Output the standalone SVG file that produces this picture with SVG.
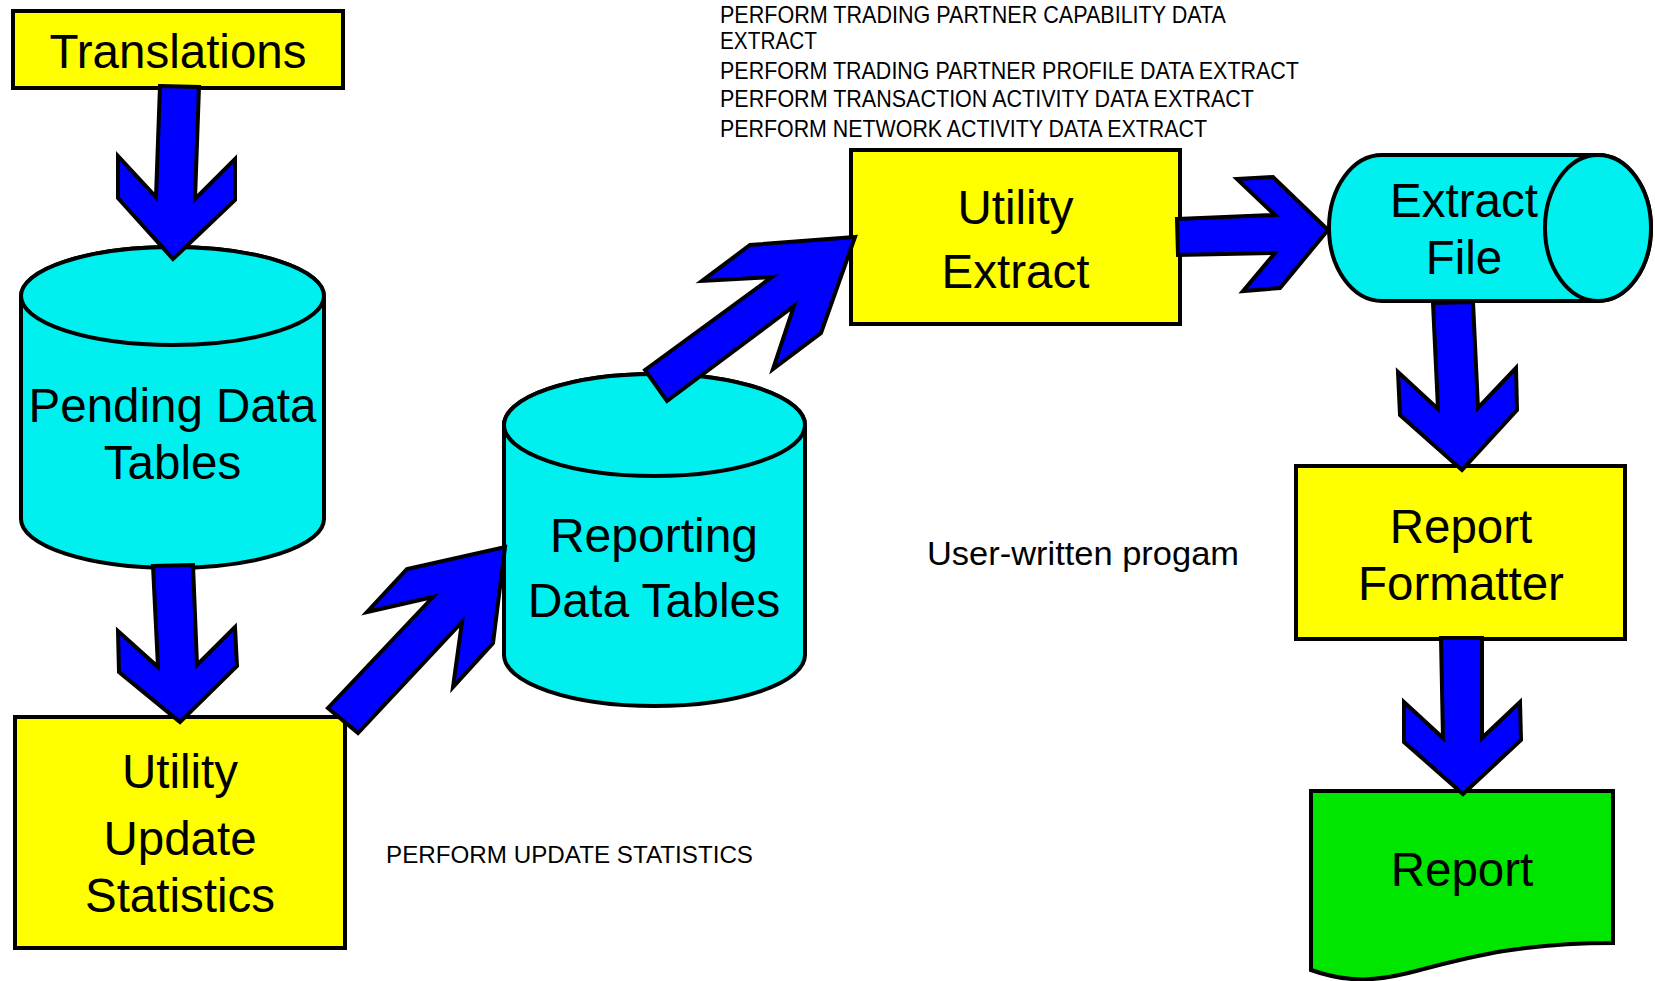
<svg xmlns="http://www.w3.org/2000/svg" width="1655" height="981" viewBox="0 0 1655 981">
<style>
.box{fill:#FFFF00;stroke:#000;stroke-width:4}
.cyl{fill:#00F0F0;stroke:#000;stroke-width:4}
.doc{fill:#00E600;stroke:#000;stroke-width:4}
.arr{fill:#0000FF;stroke:#000;stroke-width:4;stroke-linejoin:miter}
.big{font-family:"Liberation Sans",Arial,sans-serif;font-size:47.5px;fill:#000;text-anchor:middle}
.small{font-family:"Liberation Sans",Arial,sans-serif;font-size:24.5px;fill:#000}
</style>
<rect width="1655" height="981" fill="#FFFFFF"/>
<g id="translations">
<rect class="box" x="13" y="11" width="330" height="77"/>
<text class="big" x="178" y="68">Translations</text>
</g>
<g id="pending-data-tables">
<path class="cyl" d="M21,296 A151.5,49 0 0 1 324,296 V519 A151.5,49 0 0 1 21,519 Z"/>
<ellipse class="cyl" cx="172.5" cy="296" rx="151.5" ry="49"/>
<text class="big" x="172.5" y="422">Pending Data</text>
<text class="big" x="172.5" y="479">Tables</text>
</g>
<g id="utility-update-statistics">
<rect class="box" x="15" y="717" width="330" height="231"/>
<text class="big" x="180" y="788">Utility</text>
<text class="big" x="180" y="855">Update</text>
<text class="big" x="180" y="912">Statistics</text>
</g>
<g id="reporting-data-tables">
<path class="cyl" d="M504,425 A150.5,51 0 0 1 805,425 V655 A150.5,51 0 0 1 504,655 Z"/>
<ellipse class="cyl" cx="654.5" cy="425" rx="150.5" ry="51"/>
<text class="big" x="654" y="552" style="font-size:48px">Reporting</text>
<text class="big" x="654" y="617" style="font-size:48px">Data Tables</text>
</g>
<g id="utility-extract">
<rect class="box" x="851" y="150" width="329" height="174"/>
<text class="big" x="1015.5" y="224">Utility</text>
<text class="big" x="1015.5" y="288">Extract</text>
</g>
<g id="extract-file">
<path class="cyl" d="M1382,155 H1598 A53,73 0 0 1 1598,301 H1382 A53,73 0 0 1 1382,155 Z"/>
<ellipse class="cyl" cx="1598" cy="228" rx="53" ry="73"/>
<text class="big" x="1464" y="217">Extract</text>
<text class="big" x="1464" y="274">File</text>
</g>
<g id="report-formatter">
<rect class="box" x="1296" y="466" width="329" height="173"/>
<text class="big" x="1461" y="543">Report</text>
<text class="big" x="1461" y="600">Formatter</text>
</g>
<g id="report">
<path class="doc" d="M1311,791 H1613 V943 C1520,943 1470,957 1420,970 C1380,981 1350,984 1311,970 Z"/>
<text class="big" x="1462" y="886">Report</text>
</g>
<g id="annotations">
<text class="small" x="720" y="23" textLength="506" lengthAdjust="spacingAndGlyphs">PERFORM TRADING PARTNER CAPABILITY DATA</text>
<text class="small" x="720" y="49" textLength="97" lengthAdjust="spacingAndGlyphs">EXTRACT</text>
<text class="small" x="720" y="79" textLength="579" lengthAdjust="spacingAndGlyphs">PERFORM TRADING PARTNER PROFILE DATA EXTRACT</text>
<text class="small" x="720" y="107" textLength="534" lengthAdjust="spacingAndGlyphs">PERFORM TRANSACTION ACTIVITY DATA EXTRACT</text>
<text class="small" x="720" y="137" textLength="487" lengthAdjust="spacingAndGlyphs">PERFORM NETWORK ACTIVITY DATA EXTRACT</text>
<text class="small" x="386" y="863" style="font-size:23px" textLength="367" lengthAdjust="spacingAndGlyphs">PERFORM UPDATE STATISTICS</text>
<text class="small" x="927" y="565" style="font-size:33px" textLength="312" lengthAdjust="spacingAndGlyphs">User-written progam</text>
</g>
<g id="connectors">
<polygon class="arr" points="160,86 199,87 195,199 235,159 235,200 173,259 118,198 118,156 156,197"/>
<polygon class="arr" points="153,566 193,565 197,665 235,627 237,666 180,722 119,672 118,631 158,667"/>
<polygon class="arr" points="328,708 433,597 367,612 407,569 505,547 493,643 453,687 462,622 358,733"/>
<polygon class="arr" points="645,370 772,277 702,281 750,245 855,237 821,333 773,369 794,306 667,401"/>
<polygon class="arr" points="1177,219 1275,215 1237,179 1273,177 1328,230 1280,288 1243,291 1275,253 1178,255"/>
<polygon class="arr" points="1433,303 1473,302 1478,408 1516,368 1517,410 1462,470 1400,415 1398,372 1438,409"/>
<polygon class="arr" points="1441,638 1482,638 1482,738 1520,702 1521,740 1463,794 1404,742 1404,702 1443,738"/>
</g>
</svg>
